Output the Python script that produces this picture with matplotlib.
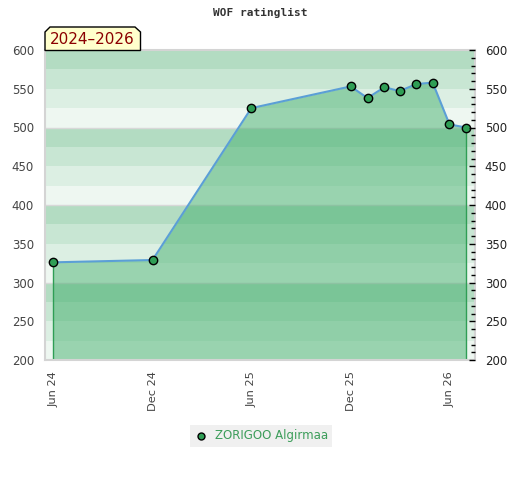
import datetime as dt
import numpy as np
import matplotlib
matplotlib.use('Agg')
import matplotlib.pyplot as plt
import matplotlib.dates as mdates
from matplotlib.patches import Polygon, Rectangle
from matplotlib.lines import Line2D

# ------------------------------ DATA -----------------------------------------
dates = [dt.date(2024, 6, 1), dt.date(2024, 12, 1), dt.date(2025, 6, 1),
         dt.date(2025, 12, 1), dt.date(2026, 1, 1), dt.date(2026, 2, 1),
         dt.date(2026, 3, 1), dt.date(2026, 4, 1), dt.date(2026, 5, 1),
         dt.date(2026, 6, 1), dt.date(2026, 7, 1)]
ratings = [326, 329, 525, 553, 538, 552, 547, 556, 558, 504, 500]
player = 'ZORIGOO Algirmaa'
period = '2024\u20132026'
tick_dates = [dt.date(2024, 6, 1), dt.date(2024, 12, 1), dt.date(2025, 6, 1),
              dt.date(2025, 12, 1), dt.date(2026, 6, 1)]
tick_labels = ['Jun 24', 'Dec 24', 'Jun 25', 'Dec 25', 'Jun 26']
y_ticks = [200, 250, 300, 350, 400, 450, 500, 550, 600]

# ------------------------------ STYLE ----------------------------------------
band_colors = ['#eef7f1', '#dcefe3', '#c8e6d3', '#b3dcc2']  # bottom -> top in each 100
fill_color = '#3dac68'
line_color = '#5b9fd6'
marker_color = '#2f9e55'

# ------------------------------ PLOTTING -------------------------------------
fig = plt.figure(figsize=(5.2, 4.8), dpi=100)
ax = fig.add_axes([45/520, 120/480, 430/520, 310/480])

x = mdates.date2num(dates)
ax.set_xlim(mdates.date2num(dt.date(2024, 5, 17)), mdates.date2num(dt.date(2026, 7, 18)))
ax.set_ylim(200, 600)

# background bands every 25 points
for i, lo in enumerate(range(200, 600, 25)):
    ax.axhspan(lo, lo + 25, color=band_colors[i % 4], lw=0, zorder=0)
for lv in range(300, 600, 100):
    ax.axhline(lv, color='#d8d8d8', lw=1, zorder=0.5)

ax.fill_between(x, ratings, 200, color=fill_color, alpha=0.48, lw=0, zorder=1)
ax.vlines([x[0], x[-1]], 200, [ratings[0], ratings[-1]], color='#2f9e55', lw=1, zorder=2)
ax.plot(x, ratings, color=line_color, lw=1.5, zorder=3)
ax.plot(x, ratings, 'o', ms=6, mfc=marker_color, mec='black', mew=1, zorder=4)

for s in ax.spines.values():
    s.set_color('#d4d4d4')
    s.set_linewidth(1.5)

ax.set_xticks(mdates.date2num(tick_dates))
ax.set_xticklabels(tick_labels, rotation=90, fontsize=8.2, color='#444444')
ax.tick_params(axis='x', length=0, pad=8)
ax.set_yticks(y_ticks)
ax.tick_params(axis='y', left=False, length=0, labelsize=8.5, labelcolor='#444444', pad=8)

ax2 = ax.twinx()
ax2.set_ylim(200, 600)
ax2.set_yticks(y_ticks)
ax2.set_yticks(np.arange(200, 601, 10), minor=True)
ax2.tick_params(axis='y', which='major', direction='in', length=4.5, width=1,
                labelsize=8.5, labelcolor='#222222', pad=7)
ax2.tick_params(axis='y', which='minor', direction='in', length=3, width=1)
for s in ax2.spines.values():
    s.set_visible(False)

fig.text(260/520, 1 - 13/480, 'WOF ratinglist', ha='center', va='center',
         family='DejaVu Sans Mono', fontsize=8, fontweight='bold', color='#333333')

# period label box with chamfered top corners
W, H = 520, 480
pts = [(45, 50.5), (45, 32), (50, 27), (135, 27), (140.5, 32), (140.5, 50.5)]
poly = Polygon([(px / W, 1 - py / H) for px, py in pts], closed=True,
               transform=fig.transFigure, facecolor='#ffffcc', edgecolor='black', lw=1, zorder=10)
fig.patches.append(poly)
fig.text(92.5 / W, 1 - 39.5 / H, period, ha='center', va='center', fontsize=11,
         color='#8b0000', zorder=11)

# legend
fig.patches.append(Rectangle((190 / W, 1 - 447 / H), 142 / W, 22 / H,
                             transform=fig.transFigure, facecolor='#f0f0f0', lw=0))
fig.lines.append(Line2D([201 / W], [1 - 436 / H], transform=fig.transFigure, marker='o',
                        ms=5, mfc=marker_color, mec='black', mew=1))
fig.text(215 / W, 1 - 436 / H, player, ha='left', va='center', fontsize=8.5, color='#3c9d5a')

fig.savefig('out.png', dpi=100)
